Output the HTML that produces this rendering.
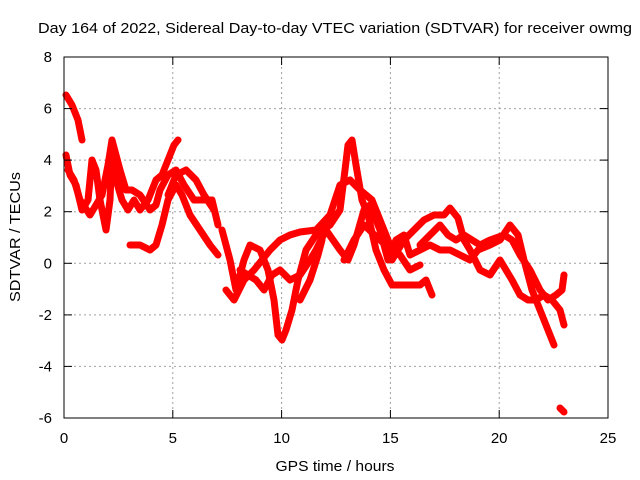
<!DOCTYPE html>
<html><head><meta charset="utf-8"><style>
body{margin:0;background:#fff}
svg{display:block;font-family:"Liberation Sans",sans-serif}
</style></head><body>
<svg width="640" height="480" xmlns="http://www.w3.org/2000/svg">
<rect width="640" height="480" fill="#fff"/>
<g stroke="#a0a0a0" stroke-width="1" stroke-dasharray="2,3">
<line x1="64" y1="108.6" x2="608" y2="108.6"/><line x1="64" y1="160.1" x2="608" y2="160.1"/>
<line x1="64" y1="211.7" x2="608" y2="211.7"/><line x1="64" y1="263.3" x2="608" y2="263.3"/>
<line x1="64" y1="314.9" x2="608" y2="314.9"/><line x1="64" y1="366.4" x2="608" y2="366.4"/>
<line x1="172.8" y1="57" x2="172.8" y2="418"/><line x1="281.6" y1="57" x2="281.6" y2="418"/>
<line x1="390.4" y1="57" x2="390.4" y2="418"/><line x1="499.2" y1="57" x2="499.2" y2="418"/>
</g>
<g fill="none" stroke="#ff0000" stroke-width="7" stroke-linejoin="round" stroke-linecap="round">
<polyline points="66,95 72,105 78,120 82,140"/>
<polyline points="66,155 70,175 76,185 82,210 88,200 92,160 96,170 100,200 106,230 110,200 112,150 116,180 122,200 128,210 134,200 140,210 148,200 156,180 162,175 168,160 174,145 178,140"/>
<polyline points="68,170 74,180 80,200 90,215 96,205 102,195 108,165 112,140 120,170 126,190 132,190 140,195 150,210 156,205 160,190 168,175 176,170 184,185 194,200 204,200 212,200 218,225"/>
<polyline points="130,245 140,245 150,250 156,245 162,225 168,200 176,185 182,195 190,215 200,230 210,245 218,255"/>
<polyline points="168,195 176,175 186,170 196,180 204,195 214,210"/>
<polyline points="222,230 230,260 236,290 244,260 250,245 260,250 268,270 274,300 278,335 282,340 286,330 292,310 298,280 306,250 316,235 330,225 340,210 345,170 348,145 352,140 356,165 362,200 368,215 376,250 384,270 392,285 400,285 410,285 420,285 426,280 432,295"/>
<polyline points="226,290 234,300 244,280 254,270 262,260 270,250 280,240 290,235 300,232 316,230 330,215 340,185 350,180 360,190 372,200 380,220 390,245 400,255 410,270 420,265"/>
<polyline points="240,270 256,280 264,290 272,275 280,270 290,280 300,275 310,260 316,250 326,230 340,250 348,260 354,245 364,210 370,205 380,230 388,260 396,240 404,235 410,255 420,250 430,245 440,250 450,250 460,255 470,260 478,250 490,245 500,240 510,225 518,235 524,260 532,290 540,310 548,330 554,345"/>
<polyline points="392,260 404,240 414,230 424,220 434,215 444,215 450,208 458,218 464,240 470,250 480,270 490,275 500,260 506,270 512,280 520,295 528,300 536,300 544,295 552,300 560,310 564,325"/>
<polyline points="420,245 430,235 440,225 448,235 456,240 464,235 472,240 480,245 490,240 504,235 512,240 520,255 530,270 540,290 548,300 556,295 562,290 564,275"/>
<polyline points="300,300 310,280 318,255 322,240"/>
<polyline points="344,260 354,240 364,225 380,240 392,250"/>
<polyline points="560,408 564,412"/>
</g>
<rect x="64" y="57" width="544" height="361" fill="none" stroke="#000" stroke-width="1"/>
<g stroke="#000" stroke-width="1">
<line x1="64" y1="57" x2="72" y2="57"/><line x1="600" y1="57" x2="608" y2="57"/>
<line x1="64" y1="108.6" x2="72" y2="108.6"/><line x1="600" y1="108.6" x2="608" y2="108.6"/>
<line x1="64" y1="160.1" x2="72" y2="160.1"/><line x1="600" y1="160.1" x2="608" y2="160.1"/>
<line x1="64" y1="211.7" x2="72" y2="211.7"/><line x1="600" y1="211.7" x2="608" y2="211.7"/>
<line x1="64" y1="263.3" x2="72" y2="263.3"/><line x1="600" y1="263.3" x2="608" y2="263.3"/>
<line x1="64" y1="314.9" x2="72" y2="314.9"/><line x1="600" y1="314.9" x2="608" y2="314.9"/>
<line x1="64" y1="366.4" x2="72" y2="366.4"/><line x1="600" y1="366.4" x2="608" y2="366.4"/>
<line x1="172.8" y1="418" x2="172.8" y2="410"/><line x1="172.8" y1="57" x2="172.8" y2="65"/>
<line x1="281.6" y1="418" x2="281.6" y2="410"/><line x1="281.6" y1="57" x2="281.6" y2="65"/>
<line x1="390.4" y1="418" x2="390.4" y2="410"/><line x1="390.4" y1="57" x2="390.4" y2="65"/>
<line x1="499.2" y1="418" x2="499.2" y2="410"/><line x1="499.2" y1="57" x2="499.2" y2="65"/>
</g>
<g font-size="15" fill="#000" text-anchor="end">
<text x="52" y="62">8</text><text x="52" y="113.6">6</text><text x="52" y="165.1">4</text>
<text x="52" y="216.7">2</text><text x="52" y="268.3">0</text><text x="52" y="319.9">-2</text>
<text x="52" y="371.4">-4</text><text x="52" y="423">-6</text>
</g>
<g font-size="15" fill="#000" text-anchor="middle">
<text x="64" y="443">0</text><text x="172.8" y="443">5</text><text x="281.6" y="443">10</text>
<text x="390.4" y="443">15</text><text x="499.2" y="443">20</text><text x="608" y="443">25</text>
<text x="335" y="471" textLength="119" lengthAdjust="spacingAndGlyphs">GPS time / hours</text>
<text x="335" y="33" textLength="594" lengthAdjust="spacingAndGlyphs">Day 164 of 2022, Sidereal Day-to-day VTEC variation (SDTVAR) for receiver owmg</text>
<text x="0" y="0" transform="translate(20,237) rotate(-90)" textLength="130" lengthAdjust="spacingAndGlyphs">SDTVAR / TECUs</text>
</g>
</svg>
</body></html>
